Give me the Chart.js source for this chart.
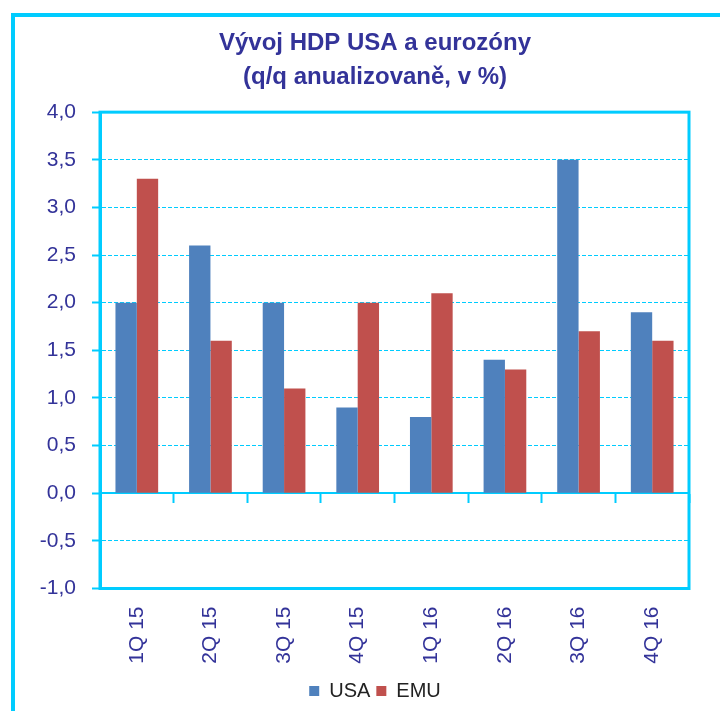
<!DOCTYPE html>
<html>
<head>
<meta charset="utf-8">
<script src="https://cdn.jsdelivr.net/npm/chart.js@4/dist/chart.umd.min.js"></script>
<style>
  html, body { margin: 0; padding: 0; background: #fff; overflow: hidden; }
  #frame { position: absolute; left: 11px; top: 13px; width: 800px; height: 800px;
           border-left: 4px solid #00CCFF; border-top: 4px solid #00CCFF; }
  #wrap { position: absolute; left: 0; top: 0; width: 720px; height: 711px; }
</style>
</head>
<body>
<div id="frame"></div>
<div id="wrap"><canvas id="c"></canvas></div>
<script>
const titleLines = ['Vývoj HDP USA a eurozóny', '(q/q anualizovaně, v %)'];
const categories = ['1Q 15', '2Q 15', '3Q 15', '4Q 15', '1Q 16', '2Q 16', '3Q 16', '4Q 16'];
const usaValues = [2.0, 2.6, 2.0, 0.9, 0.8, 1.4, 3.5, 1.9];
const emuValues = [3.3, 1.6, 1.1, 2.0, 2.1, 1.3, 1.7, 1.6];
const seriesNames = ['USA', 'EMU'];
const yMin = -1.0, yMax = 4.0, yStep = 0.5;

const CYAN = '#00CCFF';
const NAVY = '#333399';
const FONT = "'Liberation Sans', Arial, sans-serif";

const plotBorder = {
  id: 'plotBorder',
  afterDatasetsDraw(chart) {
    const a = chart.chartArea, ctx = chart.ctx;
    ctx.save();
    ctx.strokeStyle = CYAN;
    ctx.lineWidth = 3;
    ctx.strokeRect(a.left, a.top, a.right - a.left, a.bottom - a.top);
    ctx.restore();
  }
};

new Chart(document.getElementById('c'), {
  type: 'bar',
  data: {
    labels: categories,
    datasets: [
      { label: seriesNames[0], data: usaValues, backgroundColor: '#4F81BD', xAxisID: 'x', yAxisID: 'y' },
      { label: seriesNames[1], data: emuValues, backgroundColor: '#C0504D', xAxisID: 'x', yAxisID: 'y' }
    ]
  },
  options: {
    responsive: true,
    maintainAspectRatio: false,
    animation: false,
    datasets: { bar: { categoryPercentage: 0.58, barPercentage: 1.0 } },
    layout: { padding: { left: 30, right: 0, top: 26, bottom: 0 } },
    plugins: {
      title: {
        display: true,
        text: titleLines,
        color: NAVY,
        font: { family: FONT, size: 24, weight: 'bold', lineHeight: 1.42 },
        padding: { top: 0, bottom: 18 }
      },
      legend: {
        position: 'bottom',
        labels: {
          boxWidth: 10, boxHeight: 10, color: '#222222', padding: 6,
          font: { family: FONT, size: 20 }
        }
      },
      tooltip: { enabled: false }
    },
    scales: {
      x: {
        type: 'category',
        position: 'bottom',
        grid: { display: false, drawTicks: false },
        border: { display: false },
        ticks: { color: NAVY, font: { family: FONT, size: 21 }, minRotation: 90, maxRotation: 90, padding: 18 },
        afterFit(scale) { scale.height = 86.5; }
      },
      x2: {
        type: 'category',
        labels: categories,
        position: { y: 0 },
        offset: true,
        grid: { offset: true, drawOnChartArea: false, drawTicks: true, tickLength: 9, tickColor: CYAN, tickWidth: 2 },
        border: { display: true, color: CYAN, width: 2 },
        ticks: { display: false }
      },
      y: {
        min: yMin, max: yMax,
        ticks: {
          stepSize: yStep, color: NAVY, padding: 16,
          font: { family: FONT, size: 21 },
          callback: v => Number(v).toFixed(1).replace('.', ',')
        },
        grid: { color: CYAN, lineWidth: 1, tickLength: 8, tickColor: CYAN, tickWidth: 2, tickBorderDash: [] },
        border: { display: true, color: CYAN, width: 3, dash: [4, 2] },
        afterFit(scale) { scale.width = 70; }
      },
      yRight: {
        position: 'right',
        display: true,
        grid: { display: false, drawTicks: false },
        border: { display: false },
        ticks: { display: false },
        afterFit(scale) { scale.width = 31; }
      }
    }
  },
  plugins: [plotBorder]
});
</script>
</body>
</html>
